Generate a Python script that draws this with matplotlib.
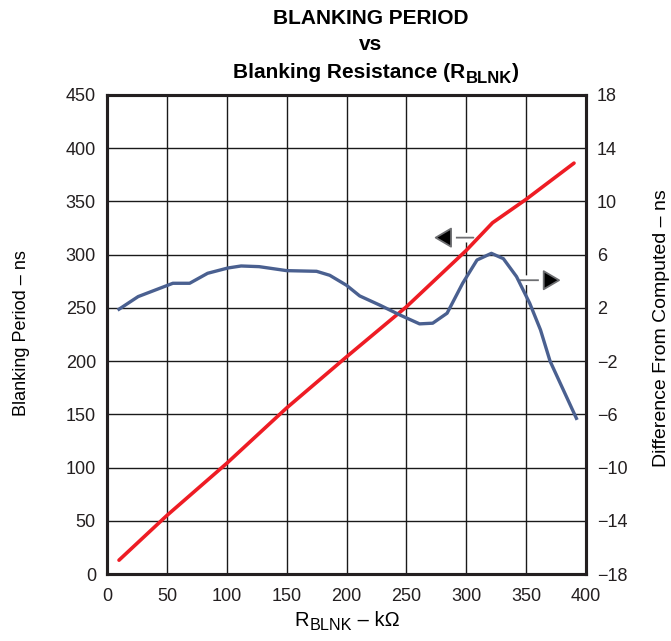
import matplotlib as mpl
import matplotlib.pyplot as plt
import matplotlib.patheffects as pe

mpl.use("Agg")

plt.rcParams.update({"font.family": ["Liberation Sans", "DejaVu Sans"]})
plt.rcParams.update({"font.size": 13})

# blanking period (left axis), ns
r_period = [10, 50, 100, 150, 200, 250, 300, 322, 350, 390]
period_ns = [13, 55, 104, 156, 204, 251, 304, 330, 352, 386]

# difference from computed (right axis), ns
r_diff = [10, 26, 55, 69, 84, 101, 112, 127, 150, 175, 186, 200, 211, 228,
          245, 261, 272, 284, 297, 309, 321, 331, 342, 353, 362, 370, 392]
diff_ns = [1.9, 2.85, 3.85, 3.85, 4.6, 5.0, 5.15, 5.1, 4.8, 4.75, 4.45, 3.7,
           2.9, 2.2, 1.45, 0.8, 0.85, 1.6, 3.85, 5.6, 6.1, 5.7, 4.35, 2.35,
           0.35, -2.0, -6.3]

x_ticks = list(range(0, 401, 50))
left_ticks = list(range(0, 451, 50))
right_ticks = list(range(-18, 19, 4))

W, H = 671, 641


def subscript_text(fig, xc, y_base, parts, size, weight="normal"):
    # parts is a list of (text, is_subscript), laid out left to right, centred on xc (pixels)
    texts = []
    for txt, is_sub in parts:
        fs = size * 0.8 if is_sub else size
        drop = size * 0.22 * 100 / 72 if is_sub else 0
        t = fig.text(0, 1 - (y_base + drop) / H, txt, fontsize=fs,
                     fontweight=weight, ha="left", va="baseline")
        texts.append(t)
    fig.canvas.draw()
    renderer = fig.canvas.get_renderer()
    widths = [t.get_window_extent(renderer).width for t in texts]
    x = xc - sum(widths) / 2
    for t, w in zip(texts, widths):
        t.set_x(x / W)
        x += w
    return texts


fig = plt.figure(figsize=(W / 100, H / 100), dpi=100)
ax = fig.add_axes([0.1595, 0.1045, 0.7138, 0.7473])
ax2 = ax.twinx()
ax2.set_position([0.1595, 0.1045, 0.7138, 0.7473])

ax.set_xlim(0, 400)
ax.set_ylim(0, 450)
ax2.set_ylim(-18, 18)
ax.set_xticks(x_ticks)
ax.set_yticks(left_ticks)
ax2.set_yticks(right_ticks)
ax2.set_yticklabels([str(t).replace("-", "\u2212") for t in right_ticks])

ax.grid(True, color="#1a1a1a", linewidth=1.0)
ax.set_axisbelow(True)

for a in (ax, ax2):
    for s in a.spines.values():
        s.set_linewidth(2.2)
        s.set_color("#231f20")
    a.tick_params(direction="in", length=0, pad=8, labelsize=13, colors="#231f20")
ax.tick_params(axis="x", pad=10)

halo = [pe.withStroke(linewidth=7, foreground="white")]
arrow_style = "-|>,head_length=0.85,head_width=0.5"
ax.annotate("", xy=(273, 316), xytext=(306, 316),
            arrowprops=dict(arrowstyle=arrow_style, ec="#6d6e71", fc="black",
                            lw=1.3, shrinkA=0, shrinkB=0, path_effects=halo),
            zorder=2.5)
ax.annotate("", xy=(379, 276), xytext=(345, 276),
            arrowprops=dict(arrowstyle=arrow_style, ec="#6d6e71", fc="black",
                            lw=1.3, shrinkA=0, shrinkB=0, path_effects=halo),
            zorder=2.5)

ax.plot(r_period, period_ns, color="#ee1c24", linewidth=2.6,
        solid_capstyle="round", zorder=4)
ax2.plot(r_diff, diff_ns, color="#4a6090", linewidth=2.4,
         solid_joinstyle="round", zorder=3)

fig.text(22 / W, 1 - 333 / H, "Blanking Period \u2013 ns", rotation=90,
         ha="center", va="center", fontsize=13)
fig.text(661 / W, 1 - 328 / H, "Difference From Computed \u2013 ns", rotation=90,
         ha="center", va="center", fontsize=14)

subscript_text(fig, 347, 626, [("R", False), ("BLNK", True), (" \u2013 k\u03a9", False)], 14.5)

fig.text(371 / W, 1 - 18 / H, "BLANKING PERIOD", ha="center", va="center",
         fontsize=15, fontweight="bold")
fig.text(371 / W, 1 - 45 / H, "vs", ha="center", va="center",
         fontsize=15, fontweight="bold")
subscript_text(fig, 376, 78, [("Blanking Resistance (R", False), ("BLNK", True), (")", False)],
               15, weight="bold")

plt.savefig("out.png", dpi=100)
plt.close()
